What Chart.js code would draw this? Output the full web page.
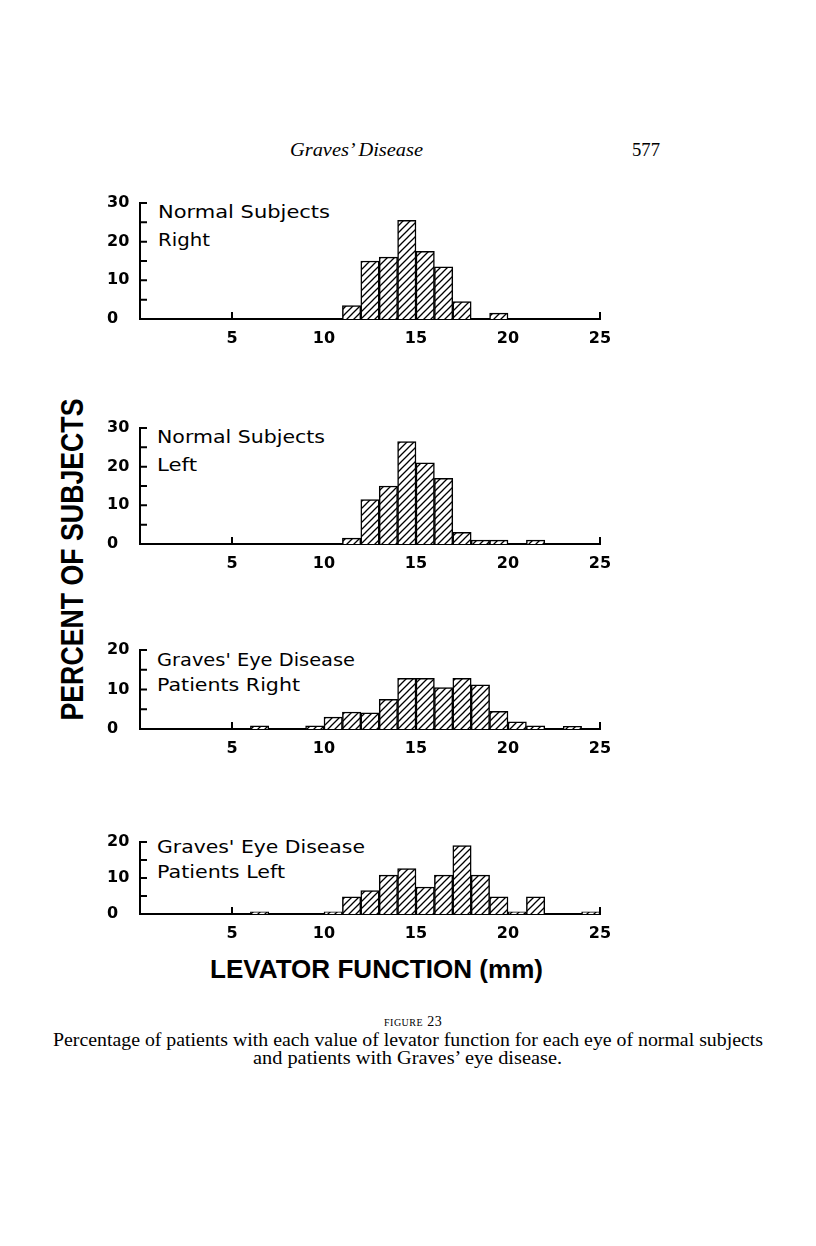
<!DOCTYPE html>
<html lang="en">
<head>
<meta charset="utf-8">
<title>Figure 23 - Levator function</title>
<script src="https://cdn.jsdelivr.net/npm/chart.js@4.4.1/dist/chart.umd.min.js"></script>
<style>
  html, body { margin: 0; padding: 0; background: #fff; }
  body { width: 816px; height: 1246px; position: relative; overflow: hidden; color: #000;
         font-family: "DejaVu Sans", sans-serif; }
  .t { position: absolute; white-space: nowrap; line-height: 1; transform-origin: 0 0; }
  .serif { font-family: "Liberation Serif", serif; }
  .lab { font-size: 18px; }
  .big { font-family: "Liberation Sans", sans-serif; font-weight: bold; }
  canvas { position: absolute; }
</style>
</head>
<body>
<div class="t serif" data-w="133" style="left:290px;top:140px;font-size:19px;font-style:italic">Graves’ Disease</div>
<div class="t serif" data-w="28" style="left:632px;top:140px;font-size:19px">577</div>

<div id="ylab" class="t big" style="font-size:31px;transform-origin:50% 50%">PERCENT OF SUBJECTS</div>

<div class="t lab" data-w="172" style="left:158px;top:203px">Normal Subjects</div>
<div class="t lab" data-w="52" style="left:158px;top:231px">Right</div>
<div class="t lab" data-w="168" style="left:157px;top:428px">Normal Subjects</div>
<div class="t lab" data-w="40" style="left:157px;top:456px">Left</div>
<div class="t lab" data-w="198" style="left:157px;top:651px">Graves' Eye Disease</div>
<div class="t lab" data-w="143" style="left:157px;top:676px">Patients Right</div>
<div class="t lab" data-w="208" style="left:157px;top:838px">Graves' Eye Disease</div>
<div class="t lab" data-w="128" style="left:157px;top:863px">Patients Left</div>

<div class="t big" data-w="333" style="left:210px;top:957px;font-size:25px">LEVATOR FUNCTION (mm)</div>

<div class="t serif" style="left:384px;top:1015px;font-size:14px;letter-spacing:0.5px"><span style="font-size:10px">FIGURE</span> 23</div>
<div class="t serif" data-w="710" style="left:53px;top:1031px;font-size:18px">Percentage of patients with each value of levator function for each eye of normal subjects</div>
<div class="t serif" data-w="309" style="left:253px;top:1049px;font-size:18px">and patients with Graves’ eye disease.</div>

<canvas id="c1"></canvas>
<canvas id="c2"></canvas>
<canvas id="c3"></canvas>
<canvas id="c4"></canvas>

<script>
// lower edge of each 1 mm class, 0..24
const bins = [0,1,2,3,4,5,6,7,8,9,10,11,12,13,14,15,16,17,18,19,20,21,22,23,24];
const normalRight = [0,0,0,0,0,0,0,0,0,0,0,3.5,15,16,25.5,17.5,13.5,4.5,0,1.5,0,0,0,0,0];
const normalLeft  = [0,0,0,0,0,0,0,0,0,0,0,1.5,11.5,15,26.5,21,17,3,1,1,0,1,0,0,0];
const gravesRight = [0,0,0,0,0,0,0.8,0,0,0.8,3,4.3,4.1,7.5,12.8,12.8,10.5,12.8,11.2,4.5,1.8,0.8,0,0.7,0];
const gravesLeft  = [0,0,0,0,0,0,0.6,0,0,0,0.6,4.8,6.5,10.8,12.6,7.5,10.8,19,10.8,4.8,0.6,4.8,0,0,0.6];
const xTickMarks = [5, 25];

// text fitting to the measured widths of the printed figure
document.querySelectorAll('[data-w]').forEach(el => {
  const w = el.getBoundingClientRect().width;
  el.style.transform = 'scaleX(' + (+el.dataset.w / w) + ')';
});
const yl = document.getElementById('ylab');
const r = yl.getBoundingClientRect();
yl.style.left = (73 - r.width / 2) + 'px';
yl.style.top = (559 - r.height / 2) + 'px';
yl.style.transform = 'rotate(-90deg) scaleX(' + (322 / r.width) + ')';

const frameTicks = {
  id: 'frameTicks',
  afterDraw(chart) {
    const {ctx, chartArea: a, scales: {x, y}} = chart;
    ctx.save();
    ctx.strokeStyle = '#000';
    ctx.lineWidth = 2;
    ctx.beginPath();
    y.ticks.forEach(t => {
      if (t.value > 0) {
        const py = y.getPixelForValue(t.value);
        ctx.moveTo(a.left, py); ctx.lineTo(a.left + 7, py);
      }
    });
    xTickMarks.forEach(v => {
      const px = x.getPixelForValue(v);
      ctx.moveTo(px, a.bottom); ctx.lineTo(px, a.bottom - 7);
    });
    ctx.stroke();
    ctx.restore();
  }
};

function hatch(ctx) {
  const c = document.createElement('canvas');
  c.width = c.height = 7;
  const g = c.getContext('2d');
  g.fillStyle = '#fff';
  g.fillRect(0, 0, 7, 7);
  g.strokeStyle = '#000';
  g.lineWidth = 1.3;
  g.beginPath();
  g.moveTo(-1, 8); g.lineTo(8, -1);
  g.moveTo(-1, 1); g.lineTo(1, -1);
  g.moveTo(6, 8); g.lineTo(8, 6);
  g.stroke();
  return ctx.createPattern(c, 'repeat');
}

const tickFont = {family: 'DejaVu Sans', size: 16, weight: 'bold'};

function panel(id, values, ymax, top, bottom) {
  const el = document.getElementById(id);
  const L = 107, R = 600, padTop = 15, padRight = 30, xh = 40;
  el.width = R - L + padRight;
  el.height = bottom - top + padTop + xh;
  el.style.left = L + 'px';
  el.style.top = (top - padTop) + 'px';
  const ctx = el.getContext('2d');
  new Chart(ctx, {
    type: 'bar',
    data: {
      datasets: [{
        data: bins.map((b, i) => ({x: b + 0.5, y: values[i]})),
        backgroundColor: hatch(ctx),
        borderColor: '#000',
        borderWidth: 1.5,
        barPercentage: 1,
        categoryPercentage: 1
      }]
    },
    options: {
      responsive: false,
      animation: false,
      devicePixelRatio: 1,
      layout: {padding: {top: padTop, right: padRight, left: 0, bottom: 0}},
      plugins: {legend: {display: false}, tooltip: {enabled: false}},
      scales: {
        x: {
          type: 'linear', min: 0, max: 25, offset: false,
          grid: {display: false, drawTicks: false, offset: false},
          border: {display: true, color: '#000', width: 2},
          ticks: {stepSize: 5, autoSkip: false, maxRotation: 0, padding: 10, color: '#000', font: tickFont,
                  callback: v => v === 0 ? '' : v},
          afterFit: s => { s.height = xh; }
        },
        y: {
          min: 0, max: ymax,
          grid: {display: false, drawTicks: false},
          border: {display: true, color: '#000', width: 2},
          ticks: {stepSize: 5, autoSkip: false, crossAlign: 'far', color: '#000', font: tickFont,
                  callback: v => v % 10 === 0 ? v : ''},
          afterFit: s => { s.width = 140 - L; }
        }
      }
    },
    plugins: [frameTicks]
  });
}

panel('c1', normalRight, 30, 203, 319);
panel('c2', normalLeft, 30, 428, 544);
panel('c3', gravesRight, 20, 650, 729);
panel('c4', gravesLeft, 20, 842, 914);
</script>
</body>
</html>
